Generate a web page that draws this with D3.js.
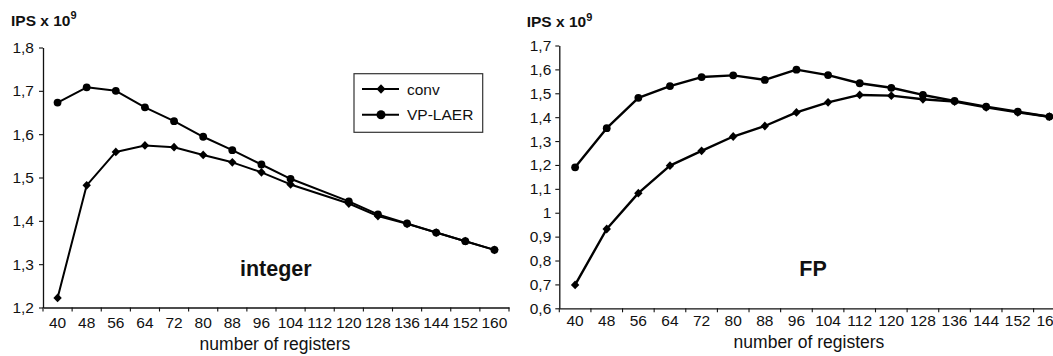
<!DOCTYPE html>
<html>
<head>
<meta charset="utf-8">
<script src="https://cdn.jsdelivr.net/npm/d3@7"></script>
<style>
  html, body { margin: 0; padding: 0; background: #fff; }
  svg { display: block; font-family: "Liberation Sans", Arial, sans-serif; }
</style>
</head>
<body>
<svg id="chart" width="1053" height="356"></svg>
<script>
// ---- data ----
const categories = [40, 48, 56, 64, 72, 80, 88, 96, 104, 112, 120, 128, 136, 144, 152, 160];
const seriesNames = ["conv", "VP-LAER"];
// integer panel (112 has no measured point)
const intConv = [1.222, 1.482, 1.559, 1.574, 1.570, 1.552, 1.535, 1.512, 1.484, null, 1.440, 1.411, 1.393, 1.373, 1.353, 1.333];
const intVP   = [1.673, 1.708, 1.700, 1.662, 1.630, 1.594, 1.563, 1.530, 1.497, null, 1.445, 1.415, 1.394, 1.373, 1.353, 1.333];
// FP panel
const fpConv = [0.698, 0.932, 1.082, 1.197, 1.259, 1.319, 1.363, 1.420, 1.462, 1.493, 1.490, 1.475, 1.465, 1.441, 1.420, 1.402];
const fpVP   = [1.190, 1.354, 1.481, 1.530, 1.568, 1.575, 1.556, 1.599, 1.576, 1.542, 1.523, 1.493, 1.468, 1.444, 1.423, 1.402];
const intYTicks = [1.2, 1.3, 1.4, 1.5, 1.6, 1.7, 1.8];
const fpYTicks  = [0.6, 0.7, 0.8, 0.9, 1.0, 1.1, 1.2, 1.3, 1.4, 1.5, 1.6, 1.7];
const yTitle = "IPS x 10";
const yTitleSup = "9";
const xTitle = "number of registers";
const panelLabels = ["integer", "FP"];

// ---- drawing ----
const svg = d3.select("#chart");
const fmt = d => d3.format(".2~f")(d).replace(".", ",");

function diamondPath(cx, cy, w, h) {
  return `M${cx},${cy - h}L${cx + w},${cy}L${cx},${cy + h}L${cx - w},${cy}Z`;
}

function drawPanel(cfg) {
  const g = svg.append("g");
  const x = d3.scaleBand().domain(categories).range([cfg.x0, cfg.x1]).padding(0);
  const y = d3.scaleLinear().domain(cfg.domain).range([cfg.yBot, cfg.yTop]);

  // y axis
  const ya = g.append("g").attr("transform", `translate(${cfg.x0},0)`)
    .call(d3.axisLeft(y).tickValues(cfg.yTicks).tickSize(4).tickSizeOuter(0).tickPadding(cfg.yPad).tickFormat(fmt));
  ya.select(".domain").attr("stroke", "#111").attr("stroke-width", 1.3);
  ya.selectAll(".tick line").attr("stroke", "#111").attr("stroke-width", 1.1);
  ya.selectAll(".tick text").attr("font-size", 15.5).attr("fill", "#111").attr("font-family", "Liberation Sans, Arial, sans-serif");

  // x axis (labels centred in bands, tick marks at band boundaries)
  const xa = g.append("g").attr("transform", `translate(0,${cfg.yBot})`)
    .call(d3.axisBottom(x).tickSize(0).tickSizeOuter(0).tickPadding(cfg.xPad));
  xa.select(".domain").attr("stroke", "#111").attr("stroke-width", 1.3);
  xa.selectAll(".tick text").attr("font-size", 15.5).attr("fill", "#111").attr("font-family", "Liberation Sans, Arial, sans-serif");
  const bounds = categories.map(c => x(c)).concat([x(categories[categories.length - 1]) + x.bandwidth()]);
  g.append("g").selectAll("line").data(bounds).join("line")
    .attr("x1", d => d).attr("x2", d => d)
    .attr("y1", cfg.yBot).attr("y2", cfg.yBot + 4)
    .attr("stroke", "#111").attr("stroke-width", 1.1);

  // y title
  const t = g.append("text").attr("x", cfg.titleX).attr("y", cfg.titleY)
    .attr("font-size", 15.5).attr("font-weight", "bold").attr("fill", "#111");
  t.append("tspan").text(yTitle);
  t.append("tspan").text(yTitleSup).attr("font-size", 11).attr("dy", -6.5);

  // x title
  g.append("text").attr("x", cfg.xTitleX).attr("y", cfg.xTitleY)
    .attr("text-anchor", "middle").attr("font-size", 17.5).attr("fill", "#111").text(xTitle);

  // panel label
  g.append("text").attr("x", cfg.labelX).attr("y", 276)
    .attr("font-size", 21.5).attr("font-weight", "bold").attr("fill", "#111").text(cfg.label);

  const cx = c => x(c) + x.bandwidth() / 2;
  const line = d3.line().x(d => cx(d.c)).y(d => y(d.v));

  cfg.series.forEach((vals, si) => {
    const pts = categories.map((c, i) => ({ c, v: vals[i] })).filter(d => d.v != null);
    g.append("path").datum(pts).attr("d", line)
      .attr("fill", "none").attr("stroke", "#000").attr("stroke-width", cfg.lw).attr("stroke-linejoin", "round");
    if (si === 0) {
      g.append("g").selectAll("path").data(pts).join("path")
        .attr("d", d => diamondPath(cx(d.c), y(d.v), 4.2, 4.4)).attr("fill", "#000");
    } else {
      g.append("g").selectAll("circle").data(pts).join("circle")
        .attr("cx", d => cx(d.c)).attr("cy", d => y(d.v)).attr("r", 3.9).attr("fill", "#000");
    }
  });
}

drawPanel({
  x0: 43, x1: 509, yTop: 47.5, yBot: 307.5, domain: [1.2, 1.8], yTicks: intYTicks,
  yPad: 5, xPad: 9, titleX: 11, titleY: 25.7, xTitleX: 275, xTitleY: 350,
  labelX: 240, label: panelLabels[0], series: [intConv, intVP], lw: 2
});
drawPanel({
  x0: 559.3, x1: 559.3 + 16 * 31.62, yTop: 45.5, yBot: 308.3, domain: [0.6, 1.7], yTicks: fpYTicks,
  yPad: 4, xPad: 6.5, titleX: 526.7, titleY: 27.3, xTitleX: 809, xTitleY: 348,
  labelX: 799.3, label: panelLabels[1], series: [fpConv, fpVP], lw: 2.4
});

// legend (in integer panel)
const lg = svg.append("g");
lg.append("rect").attr("x", 354).attr("y", 73.7).attr("width", 128.7).attr("height", 58.6)
  .attr("fill", "#fff").attr("stroke", "#333").attr("stroke-width", 1.2);
const legY = [89, 114.7];
seriesNames.forEach((name, i) => {
  lg.append("line").attr("x1", 362).attr("x2", 399).attr("y1", legY[i]).attr("y2", legY[i])
    .attr("stroke", "#000").attr("stroke-width", 2);
  if (i === 0) lg.append("path").attr("d", diamondPath(381, legY[i], 4.5, 4.8)).attr("fill", "#000");
  else lg.append("circle").attr("cx", 381).attr("cy", legY[i]).attr("r", 4.5).attr("fill", "#000");
  lg.append("text").attr("x", 407).attr("y", legY[i] + 5.5).attr("font-size", 15.5).attr("fill", "#111").text(name);
});
</script>
</body>
</html>
